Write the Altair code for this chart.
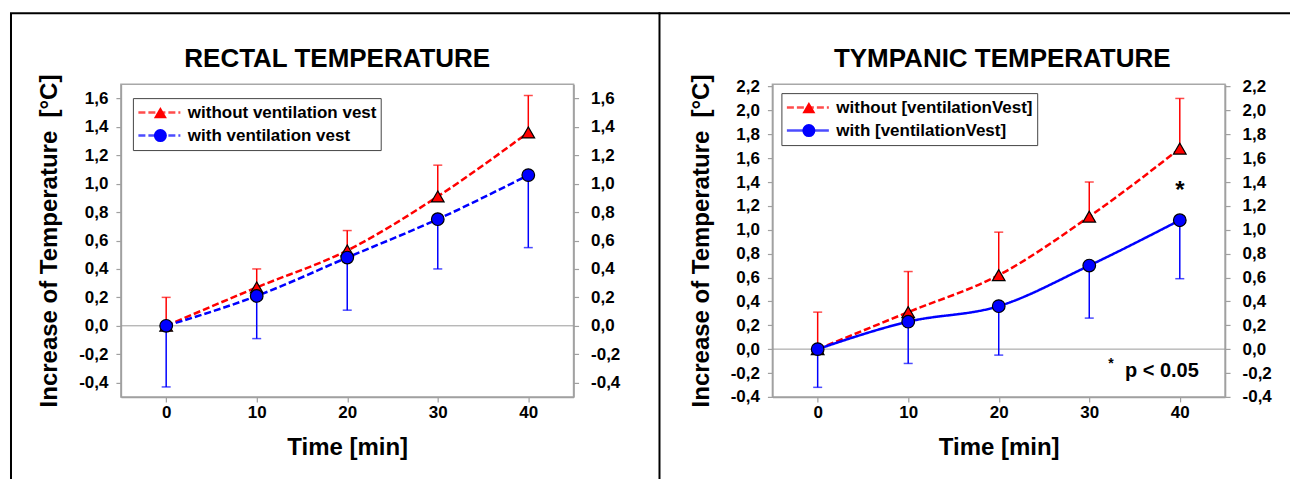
import altair as alt
import pandas as pd

# ---------------- data ----------------
time = [0, 10, 20, 30, 40]
x_ticks = [0, 10, 20, 30, 40]

rectal_title = "RECTAL TEMPERATURE"
rectal_labels = ["without ventilation vest", "with ventilation vest"]
rectal_without = [0.0, 0.27, 0.53, 0.91, 1.36]
rectal_without_err = [0.20, 0.13, 0.14, 0.22, 0.26]
rectal_with = [0.0, 0.21, 0.48, 0.75, 1.06]
rectal_with_err = [0.43, 0.30, 0.37, 0.35, 0.51]
rectal_y_ticks = [-0.4, -0.2, 0.0, 0.2, 0.4, 0.6, 0.8, 1.0, 1.2, 1.4, 1.6]

tymp_title = "TYMPANIC TEMPERATURE"
tymp_labels = ["without [ventilationVest]", "with [ventilationVest]"]
tymp_without = [0.0, 0.31, 0.62, 1.11, 1.68]
tymp_without_err = [0.31, 0.34, 0.36, 0.29, 0.42]
tymp_with = [0.0, 0.23, 0.36, 0.70, 1.08]
tymp_with_err = [0.32, 0.35, 0.41, 0.44, 0.49]
tymp_y_ticks = [-0.4, -0.2, 0.0, 0.2, 0.4, 0.6, 0.8, 1.0, 1.2, 1.4, 1.6, 1.8, 2.0, 2.2]

sig_x = [40]
sig_y = [1.37]
sig_text = ["*"]
note_x = [42.1]
note_y = [-0.23]
note_text = ["p < 0.05"]
note_star_x = [32.4]
note_star_y = [-0.16]
note_star_text = ["*"]

Y_TITLE = "Increase of Temperature\u00a0 [°C]"
X_TITLE = "Time [min]"

RED = "#ff0000"
BLUE = "#0000ff"
FONT = "Liberation Sans"
LBL = "(datum.value < -0.0001 ? '-' : '') + replace(format(abs(datum.value), '.1f'), '.', ',')"
PT_KEYS = ["pt_without", "pt_with"]


def build_df(labels, w_mean, w_err, v_mean, v_err):
    rows = []
    for t, m, e in zip(time, w_mean, w_err):
        rows.append({"series": labels[0], "series_pt": PT_KEYS[0], "time": t,
                     "mean": m, "end": m + e, "ecol": RED})
    for t, m, e in zip(time, v_mean, v_err):
        rows.append({"series": labels[1], "series_pt": PT_KEYS[1], "time": t,
                     "mean": m, "end": m - e, "ecol": BLUE})
    return pd.DataFrame(rows)


def frame_rule(**enc):
    return alt.Chart(pd.DataFrame({"a": [0]})).mark_rule(
        color="black", strokeWidth=2).encode(**enc)


def panel(title, title_x, labels, w_mean, w_err, v_mean, v_err, ydom, yticks,
          dashes, legx, legy, frames, extra):
    df = build_df(labels, w_mean, w_err, v_mean, v_err)
    xs = alt.Scale(domain=[-5, 45], nice=False, zero=False)
    ys = alt.Scale(domain=ydom, nice=False, zero=False)
    xaxis = alt.Axis(values=x_ticks, format="d", title=X_TITLE,
                     labelPadding=3, titlePadding=15)
    yaxis = alt.Axis(orient="left", values=yticks, labelExpr=LBL,
                     title=Y_TITLE, titlePadding=17, labelPadding=8)
    X = alt.X("time:Q", scale=xs, axis=xaxis)

    leg1 = alt.Legend(orient="none", legendX=legx, legendY=legy, title=None,
                      symbolType="stroke", symbolSize=1764, symbolStrokeWidth=2.5,
                      clipHeight=21, rowPadding=2, labelFontSize=17, labelFont=FONT,
                      labelFontWeight="bold", labelColor="black", labelOffset=6,
                      labelLimit=400, padding=4, strokeColor="#444444", zindex=1,
                      direction="vertical")
    leg2 = alt.Legend(orient="none", legendX=legx + 15, legendY=legy, title=None,
                      symbolSize=170, symbolStrokeColor="black", symbolStrokeWidth=1.2,
                      clipHeight=21, rowPadding=2, labelFontSize=17, labelExpr="''",
                      padding=4, zindex=2, direction="vertical")

    base = alt.Chart(df)
    zero = alt.Chart(pd.DataFrame({"z": [0.0]})).mark_rule(
        color="#9a9a9a", strokeWidth=1).encode(
        y=alt.Y("z:Q", scale=ys, axis=yaxis))
    err = base.mark_rule(strokeWidth=1.5).encode(
        x=X, y=alt.Y("mean:Q", scale=ys, axis=yaxis), y2="end:Q",
        color=alt.Color("ecol:N", scale=None))
    caps = base.mark_tick(orient="horizontal", size=9, thickness=1.5).encode(
        x=X, y=alt.Y("end:Q", scale=ys, axis=yaxis),
        color=alt.Color("ecol:N", scale=None))
    lines = base.mark_line(strokeWidth=2.5, interpolate="monotone").encode(
        x=X, y=alt.Y("mean:Q", scale=ys, axis=yaxis),
        color=alt.Color("series:N", scale=alt.Scale(domain=labels, range=[RED, BLUE]),
                        legend=leg1),
        strokeDash=alt.StrokeDash("series:N", scale=alt.Scale(domain=labels, range=dashes),
                                  legend=leg1))
    pts = base.mark_point(filled=True, stroke="black", strokeWidth=1.2, opacity=1,
                          size=160).encode(
        x=X, y=alt.Y("mean:Q", scale=ys, axis=yaxis),
        shape=alt.Shape("series_pt:N",
                        scale=alt.Scale(domain=PT_KEYS, range=["triangle-up", "circle"]),
                        legend=leg2),
        fill=alt.Fill("series_pt:N", scale=alt.Scale(domain=PT_KEYS, range=[RED, BLUE]),
                      legend=leg2))

    ttl = alt.Chart(pd.DataFrame({"t": [title]})).mark_text(
        fontSize=26, fontWeight="bold", font=FONT, color="black", align="center",
        baseline="alphabetic").encode(x=alt.value(title_x), y=alt.value(-17), text="t:N")

    layers = [zero, err, caps, lines, pts]
    for (tx, ty, tt, size, dy, align) in extra:
        tdf = pd.DataFrame({"time": tx, "v": ty, "t": tt})
        layers.append(alt.Chart(tdf).mark_text(
            fontSize=size, fontWeight="bold", font=FONT, color="black",
            align=align, baseline="alphabetic", dy=dy).encode(
            x=X, y=alt.Y("v:Q", scale=ys, axis=yaxis), text="t:N"))
    layers += [ttl] + frames
    inner = alt.layer(*layers)

    right_axis = alt.Chart(pd.DataFrame({"z": [0.0]})).mark_rule(opacity=0).encode(
        y=alt.Y("z:Q", scale=alt.Scale(domain=ydom, nice=False, zero=False),
                axis=alt.Axis(orient="right", values=yticks, labelExpr=LBL, title=None,
                              labelPadding=12)))

    return alt.layer(inner, right_axis).resolve_scale(y="independent").properties(
        width=453, height=313)


left_frames = [
    frame_rule(x=alt.value(-110), y=alt.value(-71), y2=alt.value(400)),
    frame_rule(x=alt.value(-111), x2=alt.value(540), y=alt.value(-71)),
    frame_rule(x=alt.value(539), y=alt.value(-71), y2=alt.value(400)),
]
right_frames = [
    frame_rule(x=alt.value(-114), x2=alt.value(518), y=alt.value(-71)),
]

left = panel(rectal_title, 216.5, rectal_labels, rectal_without, rectal_without_err,
             rectal_with, rectal_with_err, [-0.5, 1.7], rectal_y_ticks,
             [[7, 3], [7, 3]], 12, 14, left_frames, [])
right = panel(tymp_title, 230, tymp_labels, tymp_without, tymp_without_err,
              tymp_with, tymp_with_err, [-0.4, 2.22], tymp_y_ticks,
              [[7, 3], [1, 0]], 9, 9, right_frames,
              [(sig_x, sig_y, sig_text, 24, 12, "center"),
               (note_x, note_y, note_text, 20, 0, "right"),
               (note_star_x, note_star_y, note_star_text, 14, 0, "center")])

chart = alt.hconcat(left, right, spacing=199, bounds="flush").resolve_scale(
    color="independent", strokeDash="independent", shape="independent",
    fill="independent", x="independent", y="independent"
).resolve_legend(
    color="independent", strokeDash="independent", shape="independent",
    fill="independent"
).properties(
    padding={"left": 0, "top": 3, "right": 0, "bottom": 0}
).configure(font=FONT).configure_view(
    stroke="#a8a8a8", strokeWidth=1.5
).configure_axis(
    labelFont=FONT, labelFontSize=17, labelFontWeight="bold", labelColor="black",
    domainColor="#a0a0a0", domainWidth=1.5, tickColor="#a0a0a0", tickSize=5,
    tickWidth=1.2, grid=False, titleFont=FONT, titleFontSize=24,
    titleFontWeight="bold", titleColor="black"
)

chart.save("out.html", embed_options={"renderer": "svg", "actions": False})
